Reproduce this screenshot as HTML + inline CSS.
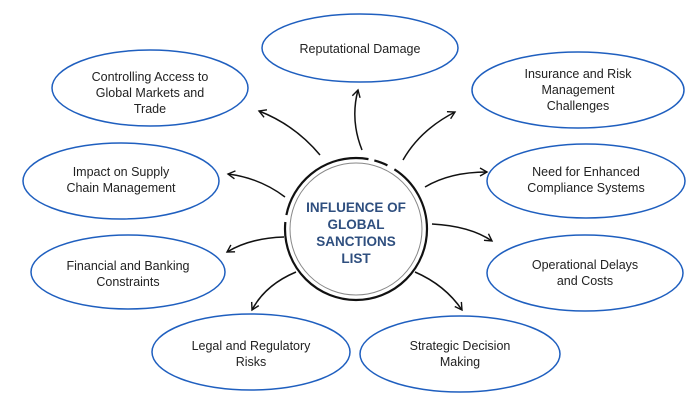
<!DOCTYPE html>
<html><head><meta charset="utf-8"><style>
body{margin:0;background:#fff;}
svg{display:block;}
text{font-family:"Liberation Sans",sans-serif;font-size:12.5px;fill:#222;text-anchor:middle;}
.c{font-weight:bold;fill:#2f4f7f;font-size:13.5px;}
ellipse.n{fill:#fff;stroke:#1f5fbf;stroke-width:1.5;}
path.a{fill:none;stroke:#111;stroke-width:1.5;}
</style></head><body>
<svg width="700" height="400" viewBox="0 0 700 400">
<defs><marker id="m" markerWidth="10" markerHeight="10" refX="8" refY="5" orient="auto" markerUnits="userSpaceOnUse"><path d="M1,1 L8,5 L1,9" fill="none" stroke="#111" stroke-width="1.4"/></marker></defs>
<ellipse class="n" cx="360" cy="48" rx="98" ry="34"/>
<text x="360" y="53">Reputational Damage</text>
<ellipse class="n" cx="150" cy="88" rx="98" ry="38"/>
<text x="150" y="81">Controlling Access to</text><text x="150" y="97">Global Markets and</text><text x="150" y="113">Trade</text>
<ellipse class="n" cx="578" cy="90" rx="106" ry="38"/>
<text x="578" y="78">Insurance and Risk</text><text x="578" y="94">Management</text><text x="578" y="110">Challenges</text>
<ellipse class="n" cx="121" cy="181" rx="98" ry="38"/>
<text x="121" y="176">Impact on Supply</text><text x="121" y="192">Chain Management</text>
<ellipse class="n" cx="586" cy="181" rx="99" ry="37"/>
<text x="586" y="176">Need for Enhanced</text><text x="586" y="192">Compliance Systems</text>
<ellipse class="n" cx="128" cy="272" rx="97" ry="37"/>
<text x="128" y="270">Financial and Banking</text><text x="128" y="286">Constraints</text>
<ellipse class="n" cx="585" cy="273" rx="98" ry="38"/>
<text x="585" y="269">Operational Delays</text><text x="585" y="285">and Costs</text>
<ellipse class="n" cx="251" cy="352" rx="99" ry="38"/>
<text x="251" y="350">Legal and Regulatory</text><text x="251" y="366">Risks</text>
<ellipse class="n" cx="460" cy="354" rx="100" ry="38"/>
<text x="460" y="350">Strategic Decision</text><text x="460" y="366">Making</text>

<path class="a" marker-end="url(#m)" d="M362,150 Q350,120 358,90"/>
<path class="a" marker-end="url(#m)" d="M320,155 Q295,125 259,111"/>
<path class="a" marker-end="url(#m)" d="M403,160 Q420,130 455,112"/>
<path class="a" marker-end="url(#m)" d="M285,197 Q260,178 228,174"/>
<path class="a" marker-end="url(#m)" d="M425,187 Q450,172 487,172"/>
<path class="a" marker-end="url(#m)" d="M284,237 Q250,238 227,252"/>
<path class="a" marker-end="url(#m)" d="M432,224 Q470,226 492,241"/>
<path class="a" marker-end="url(#m)" d="M296,272 Q265,285 252,310"/>
<path class="a" marker-end="url(#m)" d="M415,272 Q445,285 462,310"/>

<circle cx="356" cy="229" r="71" fill="#fff" stroke="#111" stroke-width="2.2" stroke-dasharray="230 7 110 6 14 8 71"/>
<circle cx="356" cy="229" r="66" fill="none" stroke="#888" stroke-width="1"/>
<text class="c" x="356" y="212">INFLUENCE OF</text>
<text class="c" x="356" y="229">GLOBAL</text>
<text class="c" x="356" y="246">SANCTIONS</text>
<text class="c" x="356" y="263">LIST</text>
</svg>
</body></html>
